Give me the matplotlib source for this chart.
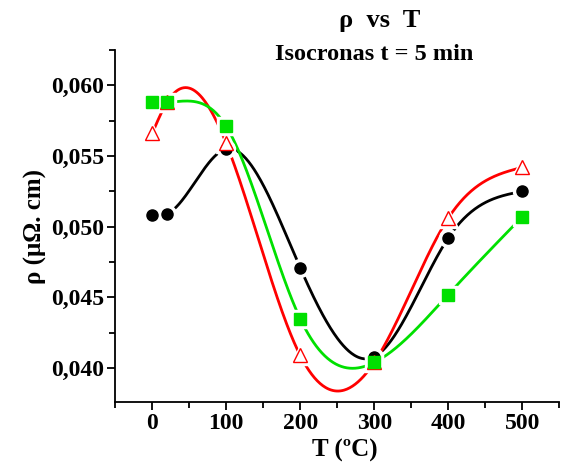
import numpy as np
import matplotlib.pyplot as plt
from matplotlib.ticker import MultipleLocator, FuncFormatter

plt.rcParams['font.family'] = ['Liberation Serif', 'DejaVu Serif']
plt.rcParams['font.weight'] = 'bold'

# data
T = [0, 20, 100, 200, 300, 400, 500]
rho_black = [0.0508, 0.0509, 0.0555, 0.0471, 0.0408, 0.0492, 0.0525]
rho_red = [0.0566, 0.0588, 0.0559, 0.0409, 0.0404, 0.0506, 0.0542]
rho_green = [0.0588, 0.0588, 0.0571, 0.0435, 0.0404, 0.0452, 0.0507]


def natural_spline(x, y, n=400):
    x = np.asarray(x, float)
    y = np.asarray(y, float)
    k = len(x)
    h = np.diff(x)
    A = np.zeros((k, k))
    b = np.zeros(k)
    A[0, 0] = 1
    A[-1, -1] = 1
    for i in range(1, k - 1):
        A[i, i - 1] = h[i - 1]
        A[i, i] = 2 * (h[i - 1] + h[i])
        A[i, i + 1] = h[i]
        b[i] = 6 * ((y[i + 1] - y[i]) / h[i] - (y[i] - y[i - 1]) / h[i - 1])
    M = np.linalg.solve(A, b)
    xs = np.linspace(x[0], x[-1], n)
    idx = np.clip(np.searchsorted(x, xs) - 1, 0, k - 2)
    x0, x1 = x[idx], x[idx + 1]
    hh = x1 - x0
    ys = (M[idx] * (x1 - xs) ** 3 / (6 * hh) + M[idx + 1] * (xs - x0) ** 3 / (6 * hh)
          + (y[idx] / hh - M[idx] * hh / 6) * (x1 - xs)
          + (y[idx + 1] / hh - M[idx + 1] * hh / 6) * (xs - x0))
    return xs, ys


fig = plt.figure(figsize=(5.62, 4.67), dpi=100)
ax = fig.add_axes([0.205, 0.139, 0.79, 0.754])

series = [
    (rho_black, 'black', 'o', 'black', 8),
    (rho_red, '#ff0000', '^', 'white', 10),
    (rho_green, '#00e000', 's', '#00e000', 8),
]
for y, c, m, fc, ms in series:
    xs, ys = natural_spline(T, y)
    ax.plot(xs, ys, color=c, lw=2, zorder=2)
# white halo so the curves stop short of the symbols
for y, c, m, fc, ms in series:
    ax.plot(T, y, ls='none', marker=m, ms=ms + 5, mfc='white', mec='white', zorder=3)
for y, c, m, fc, ms in series:
    ax.plot(T, y, ls='none', marker=m, ms=ms, mfc=fc, mec=c, mew=1, zorder=4)

ax.set_xlim(-50, 550)
ax.set_ylim(0.0376, 0.0625)
ax.xaxis.set_major_locator(MultipleLocator(100))
ax.xaxis.set_minor_locator(MultipleLocator(50))
ax.yaxis.set_major_locator(MultipleLocator(0.005))
ax.yaxis.set_minor_locator(MultipleLocator(0.0025))
ax.yaxis.set_major_formatter(FuncFormatter(lambda v, p: ('%.3f' % v).replace('.', ',')))
ax.spines['top'].set_visible(False)
ax.spines['right'].set_visible(False)
ax.spines['left'].set_linewidth(1.3)
ax.spines['bottom'].set_linewidth(1.3)
ax.tick_params(which='major', length=6, width=1.3, labelsize=17, pad=2)
ax.tick_params(which='minor', length=4, width=1.3)
for lab in ax.get_xticklabels() + ax.get_yticklabels():
    lab.set_fontweight('bold')

ax.set_xlabel('T (ºC)', fontsize=18, fontweight='bold')
ax.xaxis.set_label_coords(0.518, -0.105)
ax.set_ylabel('ρ (μΩ. cm)', fontsize=18, fontweight='bold', labelpad=3)

fig.text(0.675, 0.942, 'ρ  vs  T', ha='center', va='baseline', fontsize=19, fontweight='bold')
fig.text(0.665, 0.872, 'Isocronas t = 5 min', ha='center', va='baseline', fontsize=17.5,
         fontweight='bold')

fig.savefig('out.png', dpi=100)
